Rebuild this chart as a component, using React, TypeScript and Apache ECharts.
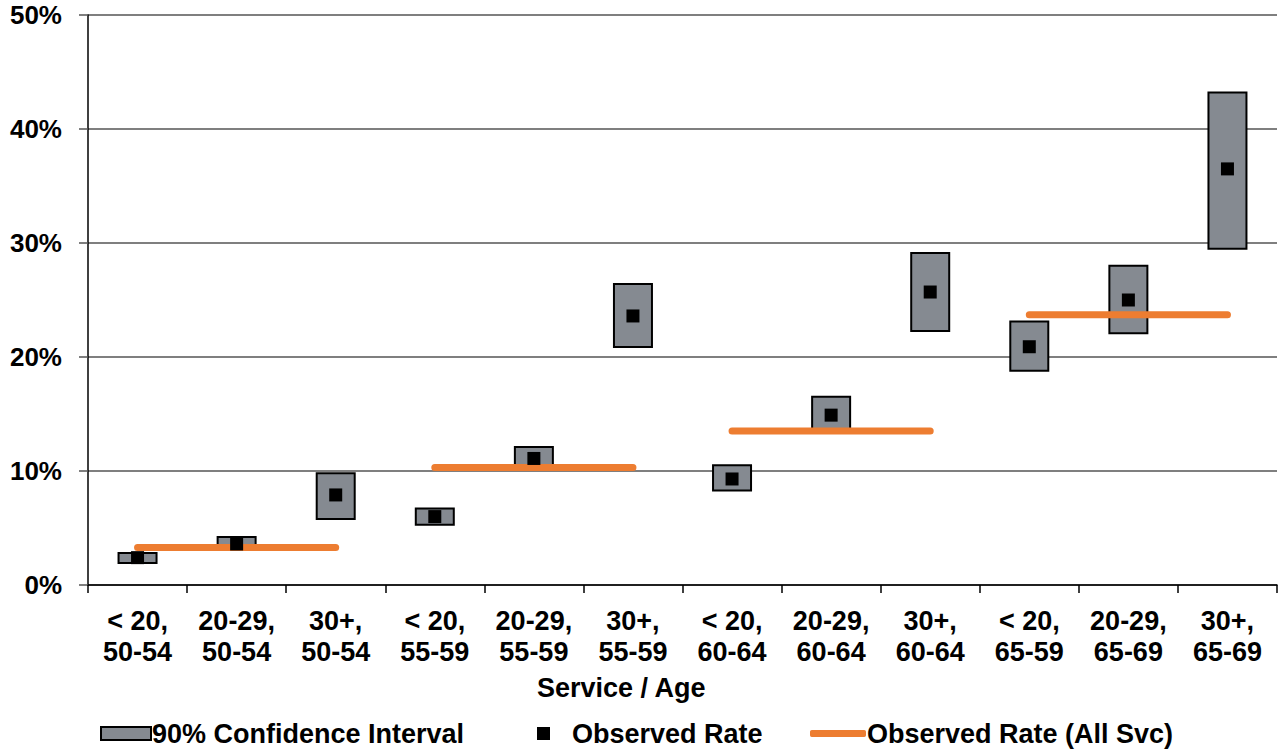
import React, { useEffect, useRef } from "react";
import * as echarts from "echarts";

const categories = [
  "< 20,\n50-54", "20-29,\n50-54", "30+,\n50-54",
  "< 20,\n55-59", "20-29,\n55-59", "30+,\n55-59",
  "< 20,\n60-64", "20-29,\n60-64", "30+,\n60-64",
  "< 20,\n65-59", "20-29,\n65-69", "30+,\n65-69",
];
const ciLow = [1.85, 3.1, 5.7, 5.2, 10.3, 20.8, 8.2, 13.6, 22.2, 18.7, 22.0, 29.4];
const ciHigh = [2.9, 4.3, 9.9, 6.8, 12.2, 26.5, 10.6, 16.6, 29.2, 23.2, 28.1, 43.3];
const observed = [2.4, 3.6, 7.9, 6.0, 11.1, 23.6, 9.3, 14.9, 25.7, 20.9, 25.0, 36.5];
const allSvcRates = [3.3, 10.3, 13.5, 23.7];
const yTicks = [0, 10, 20, 30, 40, 50];

const FONT = "'Liberation Sans', Arial, sans-serif";

export default function App() {
  const ref = useRef<HTMLDivElement>(null);
  useEffect(() => {
    document.body.style.margin = "0";
    if (!ref.current) return;
    const chart = echarts.init(ref.current, null, { renderer: "svg" });
    const lineSeries = allSvcRates.map((rate, g) => ({
      name: "Observed Rate (All Svc)",
      type: "line",
      symbol: "none",
      z: 3,
      data: categories.map((_, i) => (Math.floor(i / 3) === g ? rate : null)),
      lineStyle: { color: "#ED7D31", width: 7, cap: "round" },
      itemStyle: { color: "#ED7D31" },
      connectNulls: false,
    }));
    const legendText = { fontFamily: FONT, fontWeight: "bold", fontSize: 27, color: "#000" };
    chart.setOption({
      animation: false,
      grid: { left: 88, right: 3, top: 15, bottom: 164, containLabel: false },
      legend: [
        {
          data: [{ name: "90% Confidence Interval", icon: "rect" }],
          left: 95, top: 715, itemWidth: 50, itemHeight: 13,
          textStyle: { ...legendText, padding: [0, 0, 0, -4] },
        },
        {
          data: [{ name: "Observed Rate", icon: "rect" }],
          left: 532, top: 715, itemWidth: 13, itemHeight: 13,
          textStyle: { ...legendText, padding: [0, 0, 0, 17] },
        },
        {
          data: [{ name: "Observed Rate (All Svc)", icon: "roundRect", itemStyle: { color: "#ED7D31" } }],
          left: 805, top: 715, itemWidth: 56, itemHeight: 7,
          textStyle: { ...legendText, padding: [0, 0, 0, -4] },
        },
      ],
      xAxis: {
        type: "category",
        data: categories,
        axisLine: { lineStyle: { color: "#000", width: 1.5 } },
        axisTick: { show: true, length: 8, lineStyle: { color: "#000", width: 1.5 } },
        axisLabel: {
          fontFamily: FONT, fontWeight: "bold", fontSize: 27, color: "#000",
          lineHeight: 31, margin: 20, interval: 0,
        },
      },
      yAxis: {
        type: "value",
        min: 0, max: 50, interval: 10,
        axisLine: { show: true, lineStyle: { color: "#000", width: 1.5 } },
        axisTick: { show: true, length: 9, lineStyle: { color: "#555", width: 1.5 } },
        splitLine: { show: true, lineStyle: { color: "#555", width: 1.5 } },
        axisLabel: {
          fontFamily: FONT, fontWeight: "bold", fontSize: 26, color: "#000", margin: 26,
          formatter: (v: number) => (yTicks.includes(v) ? v + "%" : ""),
        },
      },
      graphic: [
        {
          type: "text", left: 537, top: 674,
          style: { text: "Service / Age", fontFamily: FONT, fontWeight: "bold", fontSize: 27, fill: "#000" },
        },
      ],
      series: [
        {
          name: "base", type: "bar", stack: "ci", barWidth: 40,
          data: ciLow, itemStyle: { color: "transparent" }, silent: true, z: 2,
        },
        {
          name: "90% Confidence Interval", type: "bar", stack: "ci", barWidth: 40,
          data: ciHigh.map((h, i) => +(h - ciLow[i]).toFixed(2)),
          itemStyle: { color: "#858A91", borderColor: "#000", borderWidth: 2 }, z: 2,
        },
        ...lineSeries,
        {
          name: "Observed Rate", type: "scatter", symbol: "rect", symbolSize: 13,
          data: observed, itemStyle: { color: "#000", opacity: 1 }, z: 4,
        },
      ],
    });
    return () => chart.dispose();
  }, []);
  return <div ref={ref} style={{ width: 1280, height: 749 }} />;
}
